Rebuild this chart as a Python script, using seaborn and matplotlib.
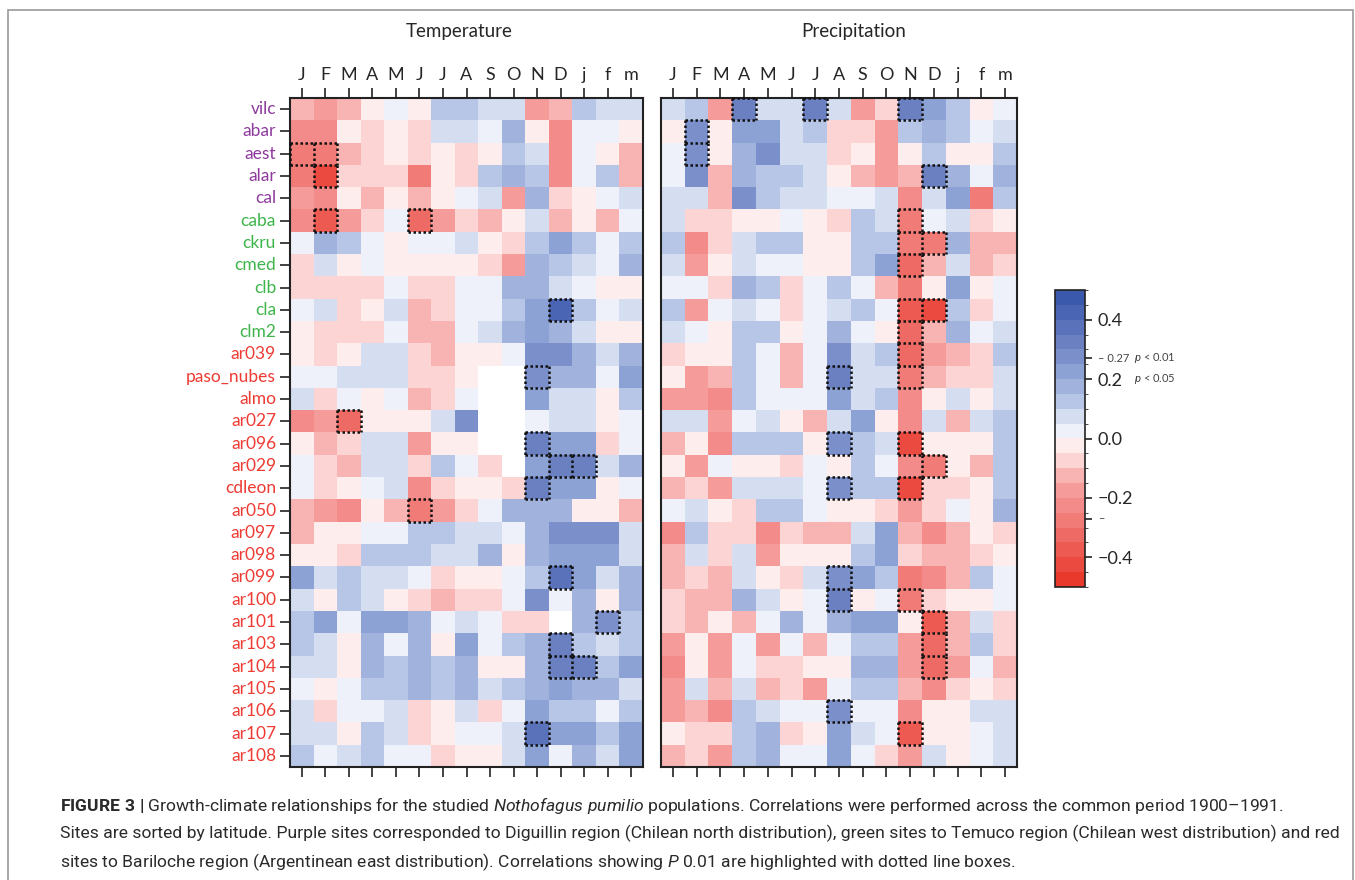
import numpy as np
import pandas as pd
import seaborn as sns
import matplotlib.pyplot as plt
from matplotlib.colors import ListedColormap, BoundaryNorm
from matplotlib.patches import Rectangle
from matplotlib.collections import LineCollection

nan = np.nan

months = ["J", "F", "M", "A", "M", "J", "J", "A", "S", "O", "N", "D", "j", "f", "m"]

sites = ["vilc", "abar", "aest", "alar", "cal",
         "caba", "ckru", "cmed", "clb", "cla", "clm2",
         "ar039", "paso_nubes", "almo", "ar027", "ar096", "ar029", "cdleon", "ar050",
         "ar097", "ar098", "ar099", "ar100", "ar101", "ar103", "ar104", "ar105",
         "ar106", "ar107", "ar108"]

# region of each site: Diguillin / Temuco / Bariloche
site_region = ["D"] * 5 + ["T"] * 6 + ["B"] * 19

# correlations with monthly temperature
temp_r = [
    [-0.12, -0.17, -0.12, -0.02, 0.02, -0.02, 0.12, 0.12, 0.07, 0.07, -0.17, -0.12, 0.12, 0.07, 0.07],
    [-0.22, -0.22, -0.02, -0.07, -0.02, -0.07, 0.07, 0.07, 0.02, 0.17, -0.02, -0.22, 0.02, 0.02, -0.02],
    [-0.28, -0.28, -0.12, -0.07, -0.02, -0.07, -0.02, -0.07, -0.02, 0.12, 0.07, -0.22, 0.02, -0.02, -0.12],
    [-0.26, -0.43, -0.07, -0.07, -0.07, -0.26, -0.02, -0.07, 0.12, 0.17, 0.12, -0.22, 0.02, 0.12, -0.12],
    [-0.17, -0.22, -0.02, -0.12, -0.02, -0.12, -0.02, 0.02, 0.07, -0.17, 0.17, -0.07, -0.02, 0.02, 0.07],
    [-0.22, -0.37, -0.17, -0.07, 0.02, -0.32, -0.17, -0.07, -0.12, -0.02, 0.07, -0.12, -0.02, -0.12, 0.02],
    [0.02, 0.17, 0.12, 0.02, -0.02, 0.02, 0.02, 0.07, -0.02, -0.07, 0.12, 0.22, 0.12, 0.02, 0.12],
    [-0.07, 0.07, -0.02, 0.02, -0.02, -0.02, -0.02, -0.02, -0.07, -0.17, 0.17, 0.12, 0.07, 0.02, 0.17],
    [-0.07, -0.07, -0.07, -0.07, 0.02, -0.07, -0.07, 0.02, 0.02, 0.17, 0.17, 0.07, 0.02, -0.02, -0.02],
    [0.02, 0.07, -0.07, -0.02, 0.07, -0.12, -0.07, 0.02, 0.02, 0.12, 0.22, 0.42, 0.12, 0.02, 0.07],
    [-0.02, -0.07, -0.07, -0.07, 0.02, -0.12, -0.12, 0.02, 0.07, 0.17, 0.22, 0.17, 0.07, -0.02, -0.02],
    [-0.02, -0.07, -0.02, 0.07, 0.07, -0.07, -0.12, -0.02, -0.02, 0.02, 0.26, 0.26, 0.17, 0.07, 0.17],
    [0.02, 0.02, 0.07, 0.07, 0.07, -0.07, -0.07, -0.02, nan, nan, 0.28, 0.17, 0.17, 0.02, 0.22],
    [0.07, -0.07, 0.02, -0.02, 0.02, -0.12, -0.07, 0.02, nan, nan, 0.22, 0.07, 0.07, -0.02, 0.12],
    [-0.22, -0.17, -0.32, -0.02, -0.02, -0.02, 0.07, 0.26, nan, nan, 0.02, 0.07, 0.07, -0.02, 0.02],
    [-0.02, -0.12, -0.07, 0.07, 0.07, -0.17, -0.02, -0.02, nan, nan, 0.32, 0.22, 0.22, -0.07, 0.02],
    [0.02, -0.07, -0.12, 0.07, 0.07, -0.07, 0.12, 0.02, -0.07, nan, 0.22, 0.32, 0.32, 0.07, 0.17],
    [0.02, -0.07, -0.02, 0.02, 0.07, -0.22, -0.07, -0.02, -0.02, -0.07, 0.32, 0.22, 0.22, -0.02, 0.02],
    [-0.12, -0.17, -0.22, -0.02, -0.12, -0.28, -0.17, -0.07, 0.02, 0.17, 0.17, 0.17, -0.02, -0.02, -0.12],
    [-0.12, -0.02, -0.02, 0.02, 0.02, 0.12, 0.12, 0.07, 0.07, 0.02, 0.17, 0.26, 0.26, 0.26, 0.07],
    [-0.02, -0.02, -0.07, 0.12, 0.12, 0.12, 0.07, 0.07, 0.17, -0.02, 0.17, 0.22, 0.22, 0.22, 0.07],
    [0.22, 0.07, 0.12, 0.07, 0.07, 0.02, -0.07, -0.02, -0.02, 0.02, 0.12, 0.37, 0.22, 0.07, 0.17],
    [0.07, -0.02, 0.12, 0.07, -0.02, -0.07, -0.12, -0.07, -0.07, 0.02, 0.26, 0.02, 0.17, -0.02, 0.17],
    [0.12, 0.22, 0.02, 0.22, 0.22, 0.17, 0.02, 0.07, 0.02, -0.07, -0.07, nan, 0.17, 0.28, 0.12],
    [0.12, 0.07, -0.02, 0.17, 0.02, 0.17, -0.02, 0.22, 0.02, 0.12, 0.17, 0.32, 0.12, 0.07, 0.12],
    [0.07, 0.07, -0.02, 0.17, 0.12, 0.17, 0.12, 0.17, -0.02, -0.02, 0.17, 0.32, 0.32, 0.12, 0.22],
    [0.02, -0.02, 0.02, 0.12, 0.12, 0.17, 0.12, 0.17, 0.07, 0.12, 0.17, 0.22, 0.17, 0.17, 0.07],
    [0.07, -0.07, 0.02, 0.02, 0.07, -0.07, -0.02, 0.07, -0.07, 0.02, 0.22, 0.12, 0.12, 0.02, 0.12],
    [0.07, 0.07, -0.02, 0.12, 0.07, -0.07, -0.02, 0.02, 0.02, 0.07, 0.37, 0.22, 0.22, 0.12, 0.22],
    [0.12, 0.02, 0.07, 0.12, 0.02, 0.02, -0.07, -0.02, -0.02, 0.07, 0.22, 0.02, 0.17, 0.07, 0.22],
]

# correlations with monthly precipitation
prec_r = [
    [0.07, 0.12, -0.17, 0.32, 0.07, 0.07, 0.32, 0.07, -0.17, -0.07, 0.32, 0.22, 0.12, -0.02, 0.02],
    [-0.02, 0.28, -0.02, 0.22, 0.22, 0.07, 0.12, -0.07, -0.07, -0.17, 0.12, 0.17, 0.12, 0.02, 0.07],
    [0.02, 0.28, -0.02, 0.17, 0.26, 0.07, 0.07, -0.07, -0.02, -0.17, -0.02, 0.12, -0.02, -0.02, 0.12],
    [0.02, 0.26, -0.12, 0.17, 0.12, 0.12, 0.07, -0.02, -0.12, -0.17, -0.12, 0.32, 0.17, 0.02, 0.17],
    [0.07, 0.07, -0.12, 0.26, 0.12, 0.07, 0.07, 0.02, 0.02, 0.07, -0.22, 0.07, 0.22, -0.26, 0.12],
    [0.07, -0.07, -0.07, -0.02, -0.02, 0.02, -0.02, -0.07, 0.12, 0.07, -0.28, 0.02, 0.07, -0.07, -0.02],
    [0.12, -0.22, -0.07, 0.07, 0.12, 0.12, -0.02, -0.02, 0.12, 0.12, -0.28, -0.28, 0.17, -0.12, -0.12],
    [0.07, -0.17, -0.02, 0.07, 0.02, 0.02, -0.02, -0.02, 0.12, 0.22, -0.32, -0.12, 0.07, -0.12, -0.07],
    [0.02, 0.02, -0.07, 0.17, 0.12, -0.07, 0.02, 0.12, 0.02, -0.12, -0.26, -0.02, 0.22, -0.02, 0.02],
    [0.12, -0.17, 0.02, 0.07, 0.02, -0.07, 0.02, 0.07, 0.12, 0.02, -0.37, -0.42, 0.12, -0.07, 0.02],
    [0.07, 0.02, -0.02, 0.12, 0.12, -0.02, 0.02, 0.17, 0.02, -0.02, -0.32, -0.12, 0.17, 0.02, 0.07],
    [-0.07, -0.02, -0.02, 0.12, 0.02, -0.12, 0.02, 0.26, 0.07, 0.12, -0.32, -0.17, -0.12, -0.07, 0.12],
    [-0.02, -0.17, -0.12, 0.12, 0.02, -0.12, 0.02, 0.32, 0.07, 0.07, -0.28, -0.12, -0.07, -0.07, 0.07],
    [-0.17, -0.17, -0.22, 0.12, 0.02, 0.02, 0.02, 0.22, 0.07, 0.12, -0.22, -0.02, 0.07, -0.02, 0.07],
    [0.07, 0.07, -0.17, 0.02, 0.07, -0.02, -0.12, 0.07, 0.22, -0.02, -0.22, 0.07, -0.12, 0.07, 0.12],
    [-0.12, -0.02, -0.22, 0.12, 0.12, 0.12, -0.02, 0.28, 0.12, 0.07, -0.42, -0.02, -0.02, -0.02, 0.12],
    [-0.02, -0.17, 0.02, -0.02, -0.02, -0.07, 0.02, -0.02, 0.12, 0.02, -0.22, -0.28, -0.02, -0.12, 0.12],
    [-0.12, -0.07, -0.17, 0.07, 0.07, 0.07, 0.02, 0.28, 0.12, 0.12, -0.42, -0.07, -0.07, -0.02, 0.12],
    [0.02, 0.07, -0.02, -0.07, 0.12, 0.12, 0.02, -0.02, -0.02, -0.07, -0.17, -0.07, 0.02, -0.02, 0.17],
    [-0.22, 0.12, -0.07, -0.07, -0.22, -0.07, -0.12, -0.12, 0.07, 0.22, -0.12, -0.22, -0.12, -0.02, -0.07],
    [-0.12, 0.07, -0.07, 0.07, -0.17, -0.02, -0.02, -0.02, 0.12, 0.22, -0.07, -0.12, -0.12, -0.07, -0.02],
    [-0.12, -0.07, -0.12, 0.07, -0.02, -0.07, 0.07, 0.28, 0.22, 0.12, -0.26, -0.22, -0.12, 0.12, 0.02],
    [-0.07, -0.12, -0.12, 0.17, 0.07, -0.02, 0.02, 0.32, -0.02, 0.02, -0.28, -0.07, -0.02, -0.02, 0.02],
    [-0.07, -0.12, -0.02, -0.12, 0.02, 0.17, 0.02, 0.17, 0.22, 0.22, -0.02, -0.37, -0.12, 0.07, -0.07],
    [-0.17, -0.02, -0.17, 0.02, -0.17, 0.02, -0.12, 0.02, 0.12, 0.12, -0.17, -0.32, -0.12, 0.12, -0.07],
    [-0.22, -0.02, -0.17, 0.02, -0.07, -0.07, -0.02, -0.02, 0.17, 0.17, -0.17, -0.32, -0.17, 0.02, -0.12],
    [-0.17, 0.07, -0.12, 0.07, -0.12, -0.07, -0.17, 0.02, 0.12, 0.12, -0.12, -0.22, -0.07, -0.02, -0.07],
    [-0.17, -0.12, -0.22, 0.12, 0.07, 0.02, 0.02, 0.28, 0.02, 0.02, -0.22, -0.02, -0.02, 0.07, 0.07],
    [-0.02, -0.07, -0.07, 0.12, 0.17, -0.07, -0.02, 0.22, 0.07, 0.02, -0.37, -0.02, -0.02, 0.02, 0.07],
    [-0.12, -0.07, -0.17, 0.12, 0.17, 0.02, 0.02, 0.22, 0.02, -0.07, -0.17, 0.07, -0.02, 0.02, 0.07],
]

sig_level = 0.27  # p < 0.01

# 20 steps of 0.05 from -0.5 to 0.5
bar_colors = ["#E8392C", "#EA4A3F", "#EC5A51", "#EE6A64", "#F07B77", "#F28B89", "#F59C9B",
              "#F8B4B3", "#FBD4D3", "#FDEEED", "#EEF1F9", "#D5DEF0", "#B7C6E6", "#A1B3DD",
              "#8DA2D4", "#7B8FCA", "#6B80C1", "#5A72BA", "#4A65B3", "#3A59AC"]
region_colors = {"D": "#8E3A9D", "T": "#3DB54A", "B": "#EE3B33"}

sns.set_style("ticks")
plt.rcParams["font.family"] = ["Lato", "DejaVu Sans"]
plt.rcParams["mathtext.fontset"] = "custom"
plt.rcParams["mathtext.rm"] = "Roboto"
plt.rcParams["mathtext.it"] = "Roboto:italic"
plt.rcParams["mathtext.bf"] = "Roboto:bold"

W, H = 1355, 880
fig = plt.figure(figsize=(W / 100, H / 100), dpi=100)

cmap = ListedColormap(bar_colors)
norm = BoundaryNorm(np.linspace(-0.5, 0.5, 21), cmap.N)

df_t = pd.DataFrame(temp_r, index=sites, columns=months)
df_p = pd.DataFrame(prec_r, index=sites, columns=months)

ax_t = fig.add_axes([290 / W, 1 - 767 / H, 353 / W, 669 / H])
ax_p = fig.add_axes([661 / W, 1 - 767 / H, 356 / W, 669 / H])
cax = fig.add_axes([1055 / W, 1 - 587 / H, 30 / W, 297 / H])

sns.heatmap(df_t, ax=ax_t, cmap=cmap, norm=norm, cbar=False,
            xticklabels=months, yticklabels=sites)
sns.heatmap(df_p, ax=ax_p, cmap=cmap, norm=norm, cbar=True, cbar_ax=cax,
            xticklabels=months, yticklabels=False)

for ax, df in [(ax_t, df_t), (ax_p, df_p)]:
    for sp in ax.spines.values():
        sp.set_visible(True)
        sp.set_color("#222222")
        sp.set_linewidth(1.5)
    ax.tick_params(axis="x", top=True, bottom=True, labeltop=True, labelbottom=False,
                   direction="out", length=7, width=1.2, color="#222222",
                   labelsize=13, pad=4)
    ax.set_xticklabels(months, rotation=0)
    ax.set_xlabel("")
    ax.set_ylabel("")
    # dotted boxes for p < 0.01, shared edges drawn once
    vals = df.values
    edges = set()
    for i in range(vals.shape[0]):
        for j in range(vals.shape[1]):
            if not np.isnan(vals[i, j]) and abs(vals[i, j]) >= sig_level:
                edges.add(((j, i), (j + 1, i)))
                edges.add(((j, i + 1), (j + 1, i + 1)))
                edges.add(((j, i), (j, i + 1)))
                edges.add(((j + 1, i), (j + 1, i + 1)))
    ax.add_collection(LineCollection(sorted(edges), colors="#111111", linewidths=1.8,
                                     linestyles=[(0, (1, 1))], zorder=5, clip_on=False))

ax_t.tick_params(axis="y", left=True, direction="out", length=7, width=1.2,
                 color="#222222", labelsize=12.5, pad=3)
ax_t.set_yticklabels(sites, rotation=0)
for lab, reg in zip(ax_t.get_yticklabels(), site_region):
    lab.set_color(region_colors[reg])
ax_p.tick_params(axis="y", left=False)

fig.text(459 / W, 1 - 31 / H, "Temperature", ha="center", va="center", fontsize=13.5)
fig.text(854 / W, 1 - 31 / H, "Precipitation", ha="center", va="center", fontsize=13.5)

# colorbar
cb = ax_p.collections[0].colorbar
cb.outline.set_edgecolor("#222222")
cb.outline.set_linewidth(1.2)
cb.set_ticks([-0.4, -0.27, -0.2, 0.0, 0.2, 0.27, 0.4])
cb.set_ticklabels(["\u22120.4", "", "\u22120.2", "0.0", "0.2", "", "0.4"])
cax.tick_params(length=5, width=1.2, color="#222222", labelsize=13, pad=4)
cax.text(1.45, 0.77, "\u2013 0.27", transform=cax.transAxes, fontsize=8,
         va="center", ha="left", color="#444444")
cax.text(2.65, 0.77, "$p$ < 0.01", transform=cax.transAxes, fontsize=8,
         va="center", ha="left", color="#444444")
cax.text(2.65, 0.70, "$p$ < 0.05", transform=cax.transAxes, fontsize=8,
         va="center", ha="left", color="#444444")
cax.text(1.45, 0.23, "\u2013", transform=cax.transAxes, fontsize=8,
         va="center", ha="left", color="#444444")

# frame around the figure
fig.patches.append(Rectangle((8 / W, -0.02), 1345 / W, 1 - 10 / H + 0.02, fill=False,
                             ec="#999999", lw=1.2, transform=fig.transFigure))

# caption
cap = [
    r"$\bf{FIGURE\ 3\ |}$ Growth-climate relationships for the studied $\it{Nothofagus\ pumilio}$ populations. "
    "Correlations were performed across the common period 1900\u20131991.",
    "Sites are sorted by latitude. Purple sites corresponded to Diguillin region (Chilean north distribution), "
    "green sites to Temuco region (Chilean west distribution) and red",
    "sites to Bariloche region (Argentinean east distribution). Correlations showing $\\it{P}$ 0.01 "
    "are highlighted with dotted line boxes.",
]
for k, line in enumerate(cap):
    fig.text(60 / W, 1 - (805 + 28.5 * k) / H, line, ha="left", va="center",
             fontsize=12.6, family="Roboto", color="#2a2a2a")

fig.savefig("out.png", dpi=100)
